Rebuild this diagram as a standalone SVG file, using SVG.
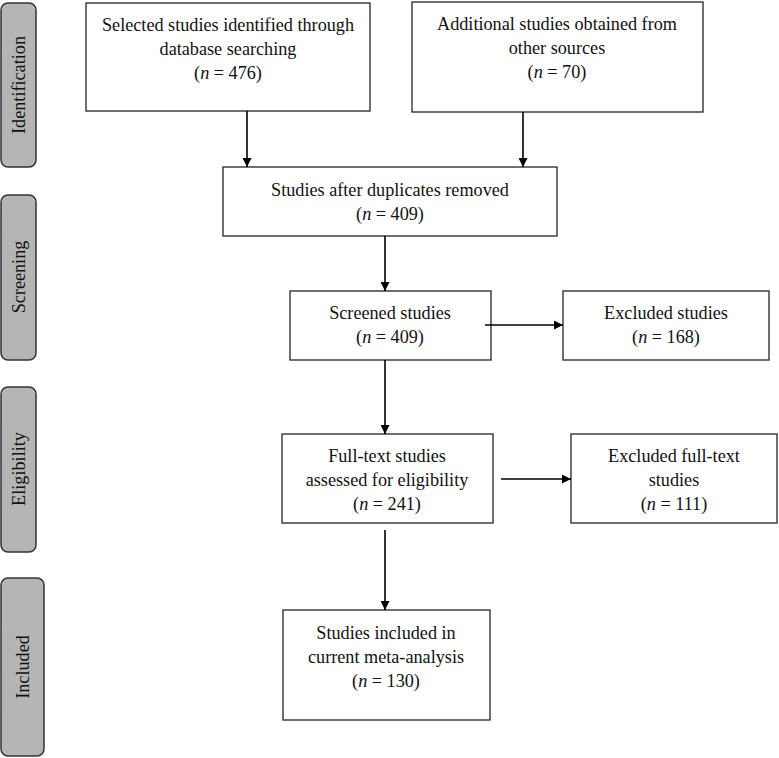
<svg xmlns="http://www.w3.org/2000/svg" width="779" height="758" viewBox="0 0 779 758">
<style>
.box{fill:#fff;stroke:#333;stroke-width:1.4}
.side{fill:#b5b5b5;stroke:#333;stroke-width:1.5}
text{font-family:"Liberation Serif","Times New Roman",serif;font-size:18.2px;fill:#111;text-anchor:middle}
.c{stroke:#000;stroke-width:1.6;fill:none}
</style>
<defs>
<marker id="ah" viewBox="0 0 10 10" refX="10" refY="5" markerWidth="9" markerHeight="9" markerUnits="userSpaceOnUse" orient="auto">
<path d="M0,0 L10,5 L0,10 z" fill="#000"/>
</marker>
</defs>
<g id="phase-identification"><rect class="side" x="1" y="3" width="35" height="164" rx="7"/><text transform="translate(25,85) rotate(-90)">Identification</text></g>
<g id="phase-screening"><rect class="side" x="1" y="195" width="35" height="165" rx="7"/><text transform="translate(25,277) rotate(-90)">Screening</text></g>
<g id="phase-eligibility"><rect class="side" x="1" y="387" width="35" height="165" rx="7"/><text transform="translate(25,469) rotate(-90)">Eligibility</text></g>
<g id="phase-included"><rect class="side" x="1" y="578" width="43" height="178" rx="7"/><text transform="translate(29,667) rotate(-90)">Included</text></g>

<g id="n1"><rect class="box" x="86" y="3" width="284" height="108"/><text x="228" y="31">Selected studies identified through</text><text x="228" y="55">database searching</text><text x="228" y="79">(<tspan font-style="italic">n</tspan> = 476)</text></g>
<g id="n2"><rect class="box" x="412" y="2" width="291" height="110"/><text x="557" y="30">Additional studies obtained from</text><text x="557" y="54">other sources</text><text x="557" y="78">(<tspan font-style="italic">n</tspan> = 70)</text></g>
<g id="n3"><rect class="box" x="223" y="167" width="334" height="69"/><text x="390" y="196">Studies after duplicates removed</text><text x="390" y="220">(<tspan font-style="italic">n</tspan> = 409)</text></g>
<g id="n4"><rect class="box" x="290" y="291" width="201" height="69"/><text x="390" y="319">Screened studies</text><text x="390" y="343">(<tspan font-style="italic">n</tspan> = 409)</text></g>
<g id="n5"><rect class="box" x="563" y="291" width="206" height="69"/><text x="666" y="319">Excluded studies</text><text x="666" y="343">(<tspan font-style="italic">n</tspan> = 168)</text></g>
<g id="n6"><rect class="box" x="282" y="434" width="211" height="89"/><text x="387" y="462">Full-text studies</text><text x="387" y="486">assessed for eligibility</text><text x="387" y="510">(<tspan font-style="italic">n</tspan> = 241)</text></g>
<g id="n7"><rect class="box" x="571" y="434" width="206" height="89"/><text x="674" y="462">Excluded full-text</text><text x="674" y="486">studies</text><text x="674" y="510">(<tspan font-style="italic">n</tspan> = 111)</text></g>
<g id="n8"><rect class="box" x="283" y="610" width="207" height="110"/><text x="386" y="639">Studies included in</text><text x="386" y="663">current meta-analysis</text><text x="386" y="687">(<tspan font-style="italic">n</tspan> = 130)</text></g>

<g id="connectors">
<line class="c" x1="247" y1="111" x2="247" y2="167" marker-end="url(#ah)"/>
<line class="c" x1="523" y1="112" x2="523" y2="167" marker-end="url(#ah)"/>
<line class="c" x1="385" y1="236" x2="385" y2="291" marker-end="url(#ah)"/>
<line class="c" x1="485" y1="325" x2="563" y2="325" marker-end="url(#ah)"/>
<line class="c" x1="385" y1="360" x2="385" y2="434" marker-end="url(#ah)"/>
<line class="c" x1="501" y1="479" x2="571" y2="479" marker-end="url(#ah)"/>
<line class="c" x1="385" y1="530" x2="385" y2="610" marker-end="url(#ah)"/>
</g>
</svg>
